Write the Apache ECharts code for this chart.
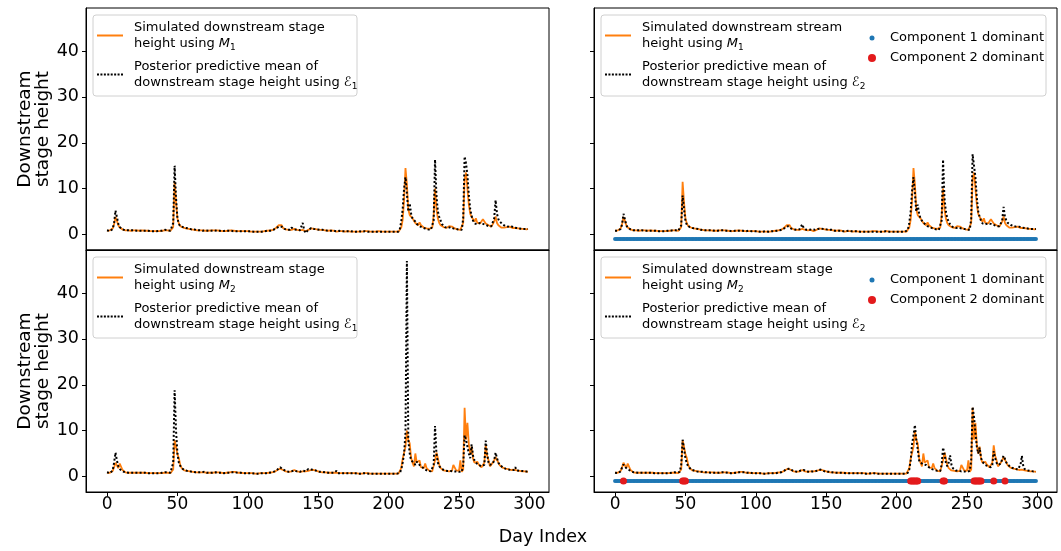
<!DOCTYPE html>
<html><head><meta charset="utf-8">
<script src="https://cdn.jsdelivr.net/npm/echarts@6/dist/echarts.min.js"></script>
<style>html,body{margin:0;padding:0;background:#fff}#c{width:1061px;height:551px}</style>
</head><body><div id="c"></div>
<script>
// ---------------- DATA ----------------
const xTicks = [0, 50, 100, 150, 200, 250, 300];
const yTicks = [0, 10, 20, 30, 40];

// Simulated downstream stage height using M1 (days 0..299)
const simM1 = [
0.8,0.7,0.9,1.0,1.3,2.2,3.8,3.0,2.0,1.5,1.2,1.1,1.0,0.9,0.9,0.9,0.9,0.8,0.9,0.9,
0.9,0.9,0.8,0.8,0.8,0.9,0.9,0.8,0.8,0.8,0.7,0.7,0.7,0.7,0.7,0.7,0.8,0.7,0.8,0.8,
0.8,0.9,1.0,0.9,0.8,0.8,1.0,1.6,11.5,7.0,3.5,2.4,1.8,1.6,1.5,1.4,1.3,1.2,1.2,1.1,
1.1,1.0,1.0,1.0,0.9,0.9,0.9,0.8,0.9,0.9,0.8,0.8,0.8,0.8,0.9,0.9,0.9,0.9,0.9,0.8,
0.8,0.7,0.7,0.7,0.7,0.8,0.8,0.8,0.9,0.8,0.8,0.8,0.7,0.7,0.7,0.8,0.7,0.7,0.7,0.7,
0.7,0.7,0.6,0.6,0.6,0.6,0.6,0.7,0.6,0.6,0.6,0.6,0.7,0.7,0.8,0.8,0.9,1.0,1.0,1.2,
1.4,1.7,2.0,2.4,2.0,1.4,1.2,1.1,1.1,1.0,1.0,1.0,1.1,1.2,1.1,1.0,1.0,0.9,0.9,1.0,
1.1,0.7,0.8,1.0,1.3,1.3,1.2,1.2,1.1,1.1,1.0,1.0,1.0,1.0,0.9,0.9,0.8,0.8,0.8,0.9,
0.9,0.8,0.7,0.6,0.6,0.7,0.8,0.7,0.7,0.6,0.7,0.7,0.7,0.6,0.6,0.6,0.6,0.6,0.6,0.6,
0.6,0.6,0.7,0.7,0.6,0.7,0.6,0.6,0.6,0.6,0.6,0.6,0.7,0.7,0.6,0.6,0.6,0.6,0.6,0.6,
0.6,0.6,0.6,0.6,0.6,0.6,0.6,0.6,0.8,1.5,3.2,7.5,14.5,11.0,5.5,4.2,4.0,3.5,3.0,2.5,
2.2,2.0,2.6,2.0,1.7,1.5,1.4,1.3,1.2,1.2,1.1,1.5,4.0,10.0,5.5,3.5,2.5,2.0,1.8,1.6,
1.5,1.4,1.5,1.8,2.2,1.7,1.4,1.3,1.2,1.1,1.1,1.0,1.0,2.5,12.0,13.5,10.0,6.5,4.5,3.8,
3.5,2.8,3.5,2.5,2.2,2.4,2.8,3.3,2.9,2.4,2.2,2.0,1.8,1.7,2.0,2.8,3.9,2.5,2.0,1.6,
1.5,1.5,1.5,1.5,1.6,1.8,1.7,1.5,1.4,1.4,1.4,1.3,1.3,1.3,1.2,1.2,1.2,1.1,1.1,1.2
];
// Posterior predictive mean using E1 (model M1 data)
const postE1_M1 = [
0.9,0.6,0.7,0.9,1.2,2.5,5.2,3.8,2.3,1.6,1.2,1.1,1.0,0.9,0.9,0.9,0.9,0.9,0.9,0.9,
0.9,0.8,0.8,0.8,0.8,0.8,0.8,0.8,0.8,0.8,0.8,0.7,0.7,0.7,0.7,0.7,0.7,0.8,0.8,0.8,
0.9,1.0,1.1,0.9,0.8,0.8,1.1,2.5,15.0,8.0,3.5,2.3,1.8,1.7,1.6,1.4,1.4,1.3,1.3,1.2,
1.1,1.0,1.1,0.9,0.9,0.9,0.9,0.9,0.8,1.0,0.9,0.8,0.8,0.8,0.8,0.9,0.9,0.9,0.8,0.8,
0.8,0.8,0.7,0.7,0.8,0.8,0.8,0.7,0.8,0.8,0.7,0.8,0.7,0.8,0.7,0.8,0.7,0.7,0.7,0.7,
0.7,0.7,0.7,0.7,0.6,0.6,0.6,0.7,0.6,0.6,0.6,0.7,0.7,0.7,0.8,0.8,0.8,0.9,1.0,1.1,
1.3,1.5,1.7,1.9,1.7,1.3,1.2,1.1,1.0,1.0,1.0,1.5,1.1,1.1,1.0,1.0,1.0,0.9,1.0,2.5,
1.0,0.3,0.6,1.0,1.3,1.4,1.3,1.2,1.2,1.1,1.1,1.0,1.0,1.0,1.0,0.9,0.8,0.8,0.8,0.8,
0.9,0.8,0.7,0.7,0.7,0.8,0.8,0.7,0.7,0.7,0.7,0.7,0.7,0.7,0.6,0.6,0.6,0.6,0.6,0.7,
0.6,0.6,0.6,0.7,0.6,0.6,0.6,0.6,0.6,0.6,0.6,0.6,0.7,0.6,0.6,0.6,0.6,0.6,0.6,0.6,
0.6,0.6,0.6,0.6,0.6,0.6,0.6,0.6,1.2,2.8,5.5,10.0,12.5,9.0,5.0,6.8,4.5,3.5,3.2,2.8,
2.3,2.0,1.8,1.8,1.5,1.4,1.3,1.2,1.1,1.1,1.0,1.0,3.0,16.3,8.5,5.0,3.8,3.0,2.2,1.9,
1.6,1.5,1.4,1.5,1.6,1.5,1.3,1.3,1.2,1.1,1.0,1.0,1.0,3.5,17.0,15.5,13.0,8.5,5.5,4.0,
3.0,2.4,2.0,2.2,2.6,2.5,2.2,2.3,2.5,2.1,1.9,1.8,1.7,1.8,2.2,3.5,7.5,4.5,3.3,2.8,
2.5,2.2,2.0,1.8,1.6,1.7,2.0,1.8,1.6,1.5,1.4,1.4,1.3,1.3,1.3,1.2,1.2,1.2,1.2,1.2
];
// Posterior predictive mean using E2 (model M1 data)
const postE2_M1 = [
0.8,0.7,0.8,0.9,1.2,2.2,4.5,3.3,2.0,1.5,1.2,1.1,1.0,0.9,0.9,0.9,0.9,0.9,0.9,0.9,
0.9,0.8,0.8,0.8,0.8,0.8,0.8,0.8,0.8,0.8,0.7,0.7,0.7,0.7,0.7,0.7,0.7,0.8,0.8,0.8,
0.8,0.9,1.0,0.9,0.8,0.8,1.0,2.0,8.5,5.5,3.0,2.1,1.7,1.6,1.5,1.4,1.3,1.3,1.2,1.2,
1.1,1.0,1.0,0.9,0.9,0.9,0.9,0.9,0.8,0.9,0.9,0.8,0.8,0.8,0.8,0.9,0.9,0.9,0.8,0.8,
0.8,0.8,0.7,0.7,0.8,0.8,0.8,0.8,0.8,0.8,0.7,0.8,0.7,0.7,0.7,0.8,0.7,0.7,0.7,0.7,
0.7,0.7,0.7,0.6,0.6,0.6,0.6,0.7,0.6,0.6,0.6,0.7,0.7,0.7,0.8,0.8,0.8,0.9,1.0,1.1,
1.3,1.5,1.7,1.8,1.6,1.3,1.2,1.1,1.0,1.0,1.0,1.1,1.3,2.2,1.4,1.1,1.0,1.0,1.0,1.0,
1.1,1.0,1.0,1.0,1.2,1.3,1.3,1.2,1.2,1.1,1.1,1.0,1.0,1.0,1.0,0.9,0.8,0.8,0.8,0.8,
0.8,0.8,0.7,0.7,0.7,0.7,0.8,0.7,0.7,0.7,0.7,0.7,0.7,0.7,0.6,0.6,0.6,0.6,0.6,0.6,
0.6,0.6,0.6,0.7,0.6,0.6,0.6,0.6,0.6,0.6,0.6,0.6,0.7,0.6,0.6,0.6,0.6,0.6,0.6,0.6,
0.6,0.6,0.6,0.6,0.6,0.6,0.6,0.6,1.0,2.5,5.0,9.5,12.5,9.0,5.0,6.5,4.5,3.5,3.0,2.7,
2.3,2.0,1.8,1.7,1.5,1.4,1.3,1.2,1.1,1.1,1.0,1.0,3.0,16.3,8.0,5.0,3.5,2.8,2.2,1.9,
1.6,1.5,1.4,1.4,1.5,1.4,1.3,1.2,1.2,1.1,1.0,1.0,1.0,3.5,17.5,15.0,12.5,8.0,5.0,3.8,
3.0,2.4,2.0,2.2,2.5,2.4,2.2,2.3,2.4,2.1,1.9,1.8,1.7,1.8,2.0,3.0,6.0,3.8,3.0,2.5,
2.3,2.1,1.9,1.8,1.6,1.7,1.8,1.7,1.6,1.5,1.4,1.4,1.3,1.3,1.3,1.2,1.2,1.2,1.2,1.2
];
// Simulated downstream stage height using M2
const simM2 = [
0.8,0.7,0.8,0.9,1.2,2.0,3.0,2.4,1.8,2.8,2.6,1.4,1.0,0.9,0.9,0.8,0.8,0.8,0.8,0.8,
0.8,0.8,0.8,0.8,0.8,0.8,0.8,0.8,0.7,0.7,0.7,0.7,0.7,0.7,0.7,0.7,0.7,0.7,0.7,0.7,
0.7,0.8,0.8,0.8,0.7,0.7,0.8,1.5,7.9,6.5,4.8,4.0,2.5,1.8,1.5,1.3,1.2,1.2,1.1,1.1,
1.0,1.0,1.0,0.9,0.9,0.9,0.9,0.9,0.8,0.9,0.8,0.8,0.8,0.8,0.8,0.8,0.9,0.9,1.1,0.9,
0.8,0.8,0.7,0.7,0.7,0.8,0.8,0.9,0.9,1.0,0.9,1.0,0.9,0.8,0.8,0.8,0.8,0.7,0.7,0.7,
0.7,0.7,0.7,0.7,0.7,0.6,0.6,0.6,0.6,0.7,0.7,0.7,0.7,0.7,0.7,0.8,0.8,0.9,0.9,1.0,
1.2,1.4,1.5,1.7,1.6,1.4,1.2,1.1,1.0,1.0,1.0,1.1,1.2,1.4,1.3,1.1,1.0,1.0,1.0,1.1,
1.2,1.1,1.1,1.2,1.3,1.4,1.5,1.4,1.3,1.2,1.1,1.0,1.0,0.9,0.9,0.9,0.8,0.8,0.8,0.8,
0.8,0.8,0.8,0.8,0.7,0.7,0.7,0.7,0.7,0.7,0.7,0.7,0.7,0.7,0.7,0.7,0.7,0.7,0.6,0.6,
0.6,0.6,0.7,0.7,0.7,0.7,0.6,0.6,0.6,0.6,0.6,0.6,0.6,0.6,0.6,0.6,0.6,0.6,0.6,0.6,
0.6,0.6,0.6,0.6,0.6,0.6,0.6,0.6,0.7,1.8,3.8,4.2,6.5,10.0,8.0,7.2,4.0,3.0,2.2,5.0,
3.0,2.8,3.5,2.0,1.6,1.8,2.8,1.8,1.4,1.2,1.1,1.1,1.4,3.5,5.2,4.0,2.5,1.8,1.5,1.3,
1.2,1.2,1.1,1.1,1.1,1.2,2.5,2.8,1.3,1.1,1.2,3.5,1.0,1.5,15.0,8.0,11.7,7.0,5.0,6.5,
3.8,3.0,2.8,3.2,2.6,2.3,2.0,2.0,3.0,6.8,4.5,3.5,2.2,2.0,3.0,3.5,4.2,4.5,3.0,2.4,
2.0,1.9,1.8,1.7,1.6,1.6,1.5,1.4,1.4,1.5,1.3,1.3,1.2,1.2,1.2,1.1,1.1,1.1,1.0,1.0
];
// Posterior predictive mean using E1 (model M2 data)
const postE1_M2 = [
0.9,0.7,0.7,0.8,1.3,3.0,5.2,3.5,2.2,1.6,1.3,1.1,0.9,0.9,0.8,0.8,0.8,0.8,0.8,0.8,
0.8,0.8,0.8,0.8,0.8,0.8,0.8,0.8,0.7,0.7,0.7,0.7,0.7,0.7,0.7,0.7,0.7,0.7,0.8,0.8,
0.8,0.9,1.0,0.9,0.8,0.8,1.0,3.0,18.8,10.0,5.0,3.0,2.3,1.8,1.6,1.4,1.3,1.2,1.2,1.1,
1.1,1.0,1.0,0.9,0.9,0.9,0.9,0.9,0.8,1.0,0.9,0.8,0.8,0.8,0.8,0.8,0.9,0.9,0.9,0.8,
0.8,0.8,0.7,0.7,0.8,0.8,0.8,0.8,0.8,0.9,0.8,0.9,0.8,0.8,0.7,0.8,0.7,0.7,0.7,0.7,
0.7,0.7,0.7,0.7,0.6,0.6,0.6,0.6,0.6,0.7,0.7,0.7,0.7,0.7,0.7,0.8,0.8,0.9,1.0,1.1,
1.3,1.5,1.7,2.0,1.8,1.5,1.3,1.2,1.1,1.0,1.0,1.1,1.2,1.3,1.2,1.1,1.0,1.0,1.1,1.3,
1.2,1.1,1.3,1.6,1.5,1.5,1.5,1.4,1.3,1.2,1.1,1.0,1.0,1.0,0.9,0.9,0.8,0.8,0.8,0.8,
0.8,0.8,0.8,1.2,0.7,0.7,0.7,0.7,0.7,0.7,0.7,0.7,0.7,0.7,0.7,0.7,0.7,0.7,0.6,0.6,
0.6,0.6,0.7,0.7,0.7,0.6,0.6,0.6,0.6,0.6,0.6,0.9,0.6,0.6,0.6,0.6,0.6,0.6,0.6,0.6,
0.6,0.6,0.6,0.6,0.6,0.6,0.6,0.6,0.8,1.5,3.0,5.0,9.5,47.0,8.0,5.0,3.5,3.5,3.0,2.5,
3.2,2.8,2.5,2.2,2.0,1.7,1.5,1.3,1.2,1.2,1.1,1.1,2.5,11.0,5.0,3.0,2.2,1.8,1.6,1.4,
1.3,1.3,1.2,1.2,1.2,1.1,1.1,1.1,1.1,1.0,1.0,1.0,1.0,2.5,9.0,8.0,6.5,5.0,4.0,7.0,
4.5,3.5,3.0,2.8,2.5,2.3,2.2,2.0,2.5,7.8,5.0,3.0,2.5,2.2,2.8,3.5,5.2,4.0,3.0,2.5,
2.2,2.0,1.8,1.7,1.6,1.5,1.5,1.4,1.4,1.4,2.0,1.3,1.3,1.2,1.2,1.2,1.1,1.1,1.1,1.1
];
// Posterior predictive mean using E2 (model M2 data)
const postE2_M2 = [
0.8,0.7,0.7,0.8,1.1,2.0,2.6,2.3,1.8,1.6,1.4,1.2,1.0,0.9,0.9,0.9,0.8,0.8,0.8,0.8,
0.8,0.8,0.8,0.8,0.8,0.8,0.8,0.8,0.7,0.7,0.7,0.7,0.7,0.7,0.7,0.7,0.7,0.7,0.7,0.7,
0.8,0.8,0.9,0.9,0.8,0.8,1.0,2.5,8.0,6.0,4.0,2.8,2.2,1.8,1.5,1.4,1.3,1.2,1.1,1.1,
1.0,1.0,1.0,0.9,0.9,0.9,0.9,0.9,0.8,0.9,0.8,0.8,0.8,0.8,0.8,0.8,0.9,0.9,0.9,0.9,
0.8,0.8,0.7,0.7,0.7,0.8,0.8,0.9,0.9,0.9,0.9,0.9,0.9,0.8,0.8,0.8,0.8,0.7,0.7,0.7,
0.7,0.7,0.7,0.7,0.7,0.6,0.6,0.6,0.6,0.7,0.7,0.7,0.7,0.7,0.7,0.8,0.8,0.9,0.9,1.0,
1.2,1.4,1.6,1.8,1.7,1.5,1.3,1.2,1.1,1.0,1.0,1.1,1.3,1.6,1.4,1.2,1.1,1.0,1.0,1.1,
1.1,1.1,1.1,1.2,1.3,1.4,1.5,1.3,1.2,1.1,1.0,1.0,1.0,0.9,0.9,0.9,0.8,0.8,0.8,0.8,
0.8,0.8,0.8,0.8,0.7,0.7,0.7,0.7,0.7,0.7,0.7,0.7,0.7,0.7,0.7,0.7,0.7,0.7,0.6,0.6,
0.6,0.6,0.7,0.7,0.7,0.7,0.6,0.6,0.6,0.6,0.6,0.6,0.6,0.6,0.6,0.6,0.6,0.6,0.6,0.6,
0.6,0.6,0.6,0.6,0.6,0.6,0.6,0.6,0.8,1.5,3.5,7.0,9.0,11.2,8.0,6.0,3.5,3.0,2.8,2.6,
3.0,2.5,2.2,2.0,1.8,1.6,1.5,1.4,1.3,1.2,1.1,1.2,2.5,6.3,5.0,3.0,2.2,3.0,4.6,2.5,
1.8,1.5,1.3,1.2,1.2,1.1,1.1,1.1,1.1,1.0,1.0,1.0,1.2,3.5,15.2,13.0,9.5,6.5,5.0,6.3,
4.0,3.2,2.8,2.5,2.3,2.2,2.1,2.0,2.5,5.5,4.0,3.0,2.5,2.3,2.8,3.8,4.5,3.8,3.0,2.6,
2.3,2.1,1.9,1.8,1.7,1.6,1.5,1.5,2.5,4.5,2.2,1.6,1.4,1.3,1.3,1.2,1.2,1.1,1.1,1.1
];
// Mixture component dominance indicator (drawn at y = -1)
const dotLevel = -1;
const comp2Days_E2M1 = [];
const comp2Days_E2M2 = [6, 48, 49, 50, 210, 211, 212, 213, 214, 215, 233, 234, 255, 256, 257, 258, 259, 260, 269, 277];

// ---------------- CHART ----------------
const FONT = 'DejaVu Sans';
const W = 463, H = 242;
const panels = [
  {left: 86,  top: 8,   sim: simM1, post: postE1_M1, k: 'tl', bottom: false, yLabels: true,  comp2: null},
  {left: 594, top: 8,   sim: simM1, post: postE2_M1, k: 'tr', bottom: false, yLabels: false, comp2: comp2Days_E2M1},
  {left: 86,  top: 250, sim: simM2, post: postE1_M2, k: 'bl', bottom: true,  yLabels: true,  comp2: null},
  {left: 594, top: 250, sim: simM2, post: postE2_M2, k: 'br', bottom: true,  yLabels: false, comp2: comp2Days_E2M2}
];
const LT = {
  tl_sim: 'Simulated downstream stage\nheight using {it|M}{sub|1}',
  tl_post: 'Posterior predictive mean of\ndownstream stage height using {sc|ℰ}{sub|1}',
  tr_sim: 'Simulated downstream stream\nheight using {it|M}{sub|1}',
  tr_post: 'Posterior predictive mean of\ndownstream stage height using {sc|ℰ}{sub|2}',
  bl_sim: 'Simulated downstream stage\nheight using {it|M}{sub|2}',
  bl_post: 'Posterior predictive mean of\ndownstream stage height using {sc|ℰ}{sub|1}',
  br_sim: 'Simulated downstream stage\nheight using {it|M}{sub|2}',
  br_post: 'Posterior predictive mean of\ndownstream stage height using {sc|ℰ}{sub|2}',
  tr_c1: 'Component 1 dominant', tr_c2: 'Component 2 dominant',
  br_c1: 'Component 1 dominant', br_c2: 'Component 2 dominant'
};
const rich = {
  it: {fontStyle: 'italic', fontSize: 13, fontFamily: FONT, color: '#000'},
  sc: {fontStyle: 'italic', fontSize: 13, fontFamily: FONT, color: '#000'},
  sub: {fontSize: 9, fontFamily: FONT, color: '#000', verticalAlign: 'bottom', lineHeight: 10}
};
const legTxt = (pad) => ({fontFamily: FONT, fontSize: 13, color: '#000', lineHeight: 16.5, padding: [0, 0, 0, pad], rich});
// legend handle shapes: solid line and dotted line
const ICON_SOLID = 'path://M0,0H26V2H0Z';
const ICON_DOT = 'path://M0,0h2v2h-2z M3.43,0h2v2h-2z M6.86,0h2v2h-2z M10.29,0h2v2h-2z M13.71,0h2v2h-2z M17.14,0h2v2h-2z M20.57,0h2v2h-2z M24,0h2v2h-2z';

const grid = [], xAxis = [], yAxis = [], series = [], legend = [], graphic = [];
panels.forEach((p, i) => {
  grid.push({left: p.left, top: p.top, width: W, height: H, show: true, borderColor: '#000', borderWidth: 1,
             backgroundColor: 'transparent', containLabel: false, outerBoundsMode: 'none'});
  xAxis.push({type: 'value', gridIndex: i, min: -14.95, max: 313.95,
    axisLine: {show: true, onZero: false, lineStyle: {color: '#000', width: 1}},
    splitLine: {show: false},
    axisTick: {show: p.bottom, customValues: xTicks, length: 4, lineStyle: {color: '#000', width: 1}},
    axisLabel: {show: p.bottom, customValues: xTicks, margin: 4, fontSize: 17, color: '#000', fontFamily: FONT}
  });
  yAxis.push({type: 'value', gridIndex: i, min: -3.4, max: 49.4,
    axisLine: {show: true, onZero: false, lineStyle: {color: '#000', width: 1}},
    splitLine: {show: false},
    axisTick: {show: true, customValues: yTicks, length: 4, lineStyle: {color: '#000', width: 1}},
    axisLabel: {show: p.yLabels, customValues: yTicks, margin: 7, fontSize: 17.5, color: '#000', fontFamily: FONT},
    name: p.yLabels ? 'Downstream\nstage height' : '', nameLocation: 'middle', nameRotate: 90, nameGap: 33,
    nameTextStyle: {fontSize: 18.5, fontFamily: FONT, color: '#000', lineHeight: 18}
  });
  series.push({type: 'line', name: p.k + '_sim', xAxisIndex: i, yAxisIndex: i, symbol: 'none', showSymbol: false,
    data: p.sim.map((v, d) => [d, v]), lineStyle: {color: '#ff7f0e', width: 1.8}, itemStyle: {color: '#ff7f0e'}, z: 2});
  series.push({type: 'line', name: p.k + '_post', xAxisIndex: i, yAxisIndex: i, symbol: 'none', showSymbol: false,
    data: p.post.map((v, d) => [d, v]), lineStyle: {color: '#000', width: 2, type: [2, 2.2]}, itemStyle: {color: '#000'}, z: 3});
  legend.push({orient: 'vertical', left: p.left + 11, top: p.top + 11, padding: 0, itemWidth: 26, itemHeight: 2, itemGap: 6,
    data: [{name: p.k + '_sim', icon: ICON_SOLID}, {name: p.k + '_post', icon: ICON_DOT}],
    formatter: n => LT[n], textStyle: legTxt(6), z: 20, selectedMode: false});
  graphic.push({type: 'rect', z: 10, shape: {x: p.left + 7, y: p.top + 7, width: p.comp2 ? 445 : 264, height: 81, r: 3},
    style: {fill: 'rgba(255,255,255,0.8)', stroke: '#d0d0d0', lineWidth: 1}});
  if (p.comp2) {
    const c1 = [], c2 = [];
    p.sim.forEach((v, d) => { if (p.comp2.indexOf(d) >= 0) c2.push([d, dotLevel]); else c1.push([d, dotLevel]); });
    series.push({type: 'scatter', name: p.k + '_c1', xAxisIndex: i, yAxisIndex: i, symbolSize: 4,
      data: c1, itemStyle: {color: '#1f77b4', opacity: 1}, z: 4});
    series.push({type: 'scatter', name: p.k + '_c2', xAxisIndex: i, yAxisIndex: i, symbolSize: 7,
      data: c2, itemStyle: {color: '#e31a1c', opacity: 1}, z: 5});
    legend.push({orient: 'vertical', left: p.left + 275.5, top: p.top + 21.75, padding: 0, itemWidth: 5, itemHeight: 5,
      icon: 'circle', data: [p.k + '_c1'], formatter: n => LT[n], textStyle: legTxt(10.5), z: 20, selectedMode: false});
    legend.push({orient: 'vertical', left: p.left + 274, top: p.top + 41.75, padding: 0, itemWidth: 8, itemHeight: 8,
      icon: 'circle', data: [p.k + '_c2'], formatter: n => LT[n], textStyle: legTxt(9), z: 20, selectedMode: false});
  }
});
graphic.push({type: 'text', x: 543, y: 537, z: 10, style: {text: 'Day Index', font: '17.5px "DejaVu Sans"', fill: '#000',
  textAlign: 'center', textVerticalAlign: 'middle'}});

const chart = echarts.init(document.getElementById('c'), null, {renderer: 'canvas'});
chart.setOption({animation: false, backgroundColor: '#fff', grid, xAxis, yAxis, series, legend, graphic, tooltip: {show: false}});
</script></body></html>
